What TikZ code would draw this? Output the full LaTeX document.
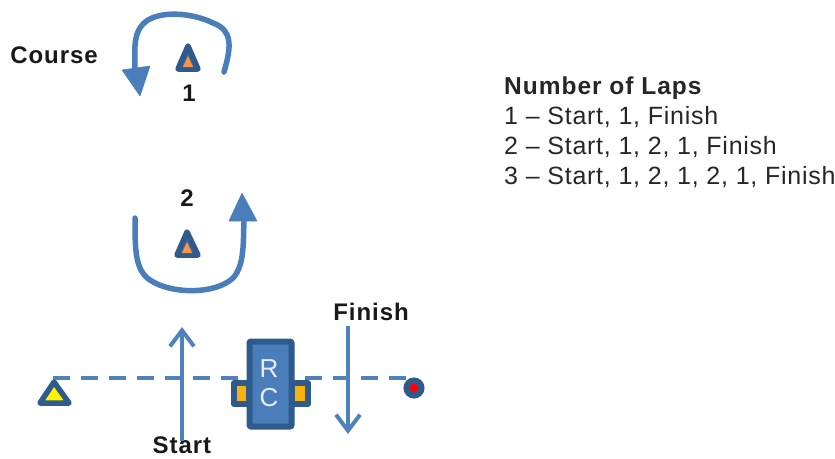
\documentclass[tikz,border=0pt]{standalone}
\usepackage{fontspec}
\setmainfont{Liberation Sans}
\newfontfamily\lapfont[LetterSpace=3]{Liberation Sans}
\newfontfamily\lblfont[LetterSpace=4,BoldFont={Liberation Sans Bold}]{Liberation Sans}
\usetikzlibrary{arrows.meta}
\definecolor{lineblue}{HTML}{4F81BD}
\definecolor{arcblue}{HTML}{4A7EBB}
\definecolor{darkblue}{HTML}{2F5B8C}
\definecolor{boxblue}{HTML}{4A7EBB}
\definecolor{rcorange}{HTML}{F9B30F}
\definecolor{buoyorange}{HTML}{F79646}
\tikzset{
  x=1pt,y=-1pt,
  lbl/.style={font=\lblfont\bfseries\fontsize{24}{26}\selectfont,text=black!90,inner sep=0pt},
  lap/.style={font=\lapfont\fontsize{25}{28}\selectfont,text=black!85,inner sep=0pt,anchor=base west},
  laphead/.style={lap,font=\lblfont\bfseries\fontsize{24.5}{28}\selectfont},
  coursearc/.style={draw=arcblue,line width=5.5pt,line cap=round},
  archead/.style={fill=arcblue,draw=arcblue,line width=.5pt,line join=round},
  mark line/.style={draw=lineblue,line width=4pt,-{Straight Barb[width=24pt,length=16pt,line width=4pt]}},
  buoy/.style={draw=darkblue,line width=5.5pt,line join=round},
  rcbody/.style={draw=darkblue,fill=boxblue,line width=6pt,line join=round},
  rctab/.style={draw=darkblue,fill=rcorange,line width=6pt,line join=round},
  rctext/.style={font=\fontsize{26}{28}\selectfont,text=blue!8,inner sep=0pt}
}
\begin{document}
\begin{tikzpicture}
\useasboundingbox (0,0) rectangle (835,458);
% labels
\node[lbl] (course) at (54,55) {Course};
\node[lbl] (one) at (189,93) {1};
\node[lbl] (two) at (187,198) {2};
\node[lbl] (finish) at (371,312) {Finish};
\node[lbl] (start) at (182,445) {Start};
% lap list
\node[laphead] (laps) at (504,94) {Number of Laps};
\node[lap] (lap1) at (504,124) {1 – Start, 1, Finish};
\node[lap] (lap2) at (504,154) {2 – Start, 1, 2, 1, Finish};
\node[lap] (lap3) at (504,184) {3 – Start, 1, 2, 1, 2, 1, Finish};
% course 1
\coordinate (a1) at (224,72);
\coordinate (a1end) at (135,68);
\draw[coursearc] (a1) .. controls (232,45) and (232,30) .. (213,23)
  .. controls (195,14) and (165,10) .. (148,20)
  .. controls (132,30) and (135,50) .. (a1end);
\fill[archead] (122,70) -- (150,66) -- (140,96) -- cycle;
\draw[buoy,fill=darkblue!90] (188,46) -- (178,69) -- (198,69) -- cycle;
\fill[buoyorange] (188,56) -- (183,67) -- (193,67) -- cycle;
% course 2
\coordinate (a2) at (135,218);
\coordinate (a2end) at (244,222);
\draw[coursearc] (a2) .. controls (135,250) and (135,270) .. (150,280)
  .. controls (170,294) and (215,295) .. (233,278)
  .. controls (245,265) and (243,240) .. (a2end);
\fill[archead] (229,221) -- (257,221) -- (242,193) -- cycle;
\draw[buoy,fill=darkblue!90] (187,232) -- (177,255) -- (198,255) -- cycle;
\fill[buoyorange] (187,242) -- (182,253) -- (192,253) -- cycle;
% start line
\coordinate (pin) at (53,378);
\coordinate (boat) at (414,378);
\draw[lineblue,line width=4pt,dash pattern=on 17pt off 11pt] (pin) -- (boat);
% pin end buoy
\draw[buoy,fill=yellow] (54,382) -- (40,403) -- (69,403) -- cycle;
% boat end buoy
\node[circle,draw=darkblue,fill=red,line width=6pt,minimum size=15pt,inner sep=0pt] (dot) at (414,388) {};
% RC boat
\draw[rctab] (234,383) rectangle (249,404);
\draw[rctab] (292,383) rectangle (308,404);
\node[rcbody,minimum width=42pt,minimum height=85pt,inner sep=0pt,rounded corners=1pt] (rc) at (270.5,384) {};
\node[rctext] (r) at (269,369) {R};
\node[rctext] (c) at (269,398) {C};
% start and finish arrows
\coordinate (s0) at (182,441);
\coordinate (s1) at (182,327);
\coordinate (f0) at (348,326);
\coordinate (f1) at (348,434);
\draw[mark line] (s0) -- (s1);
\draw[mark line] (f0) -- (f1);
\end{tikzpicture}
\end{document}
